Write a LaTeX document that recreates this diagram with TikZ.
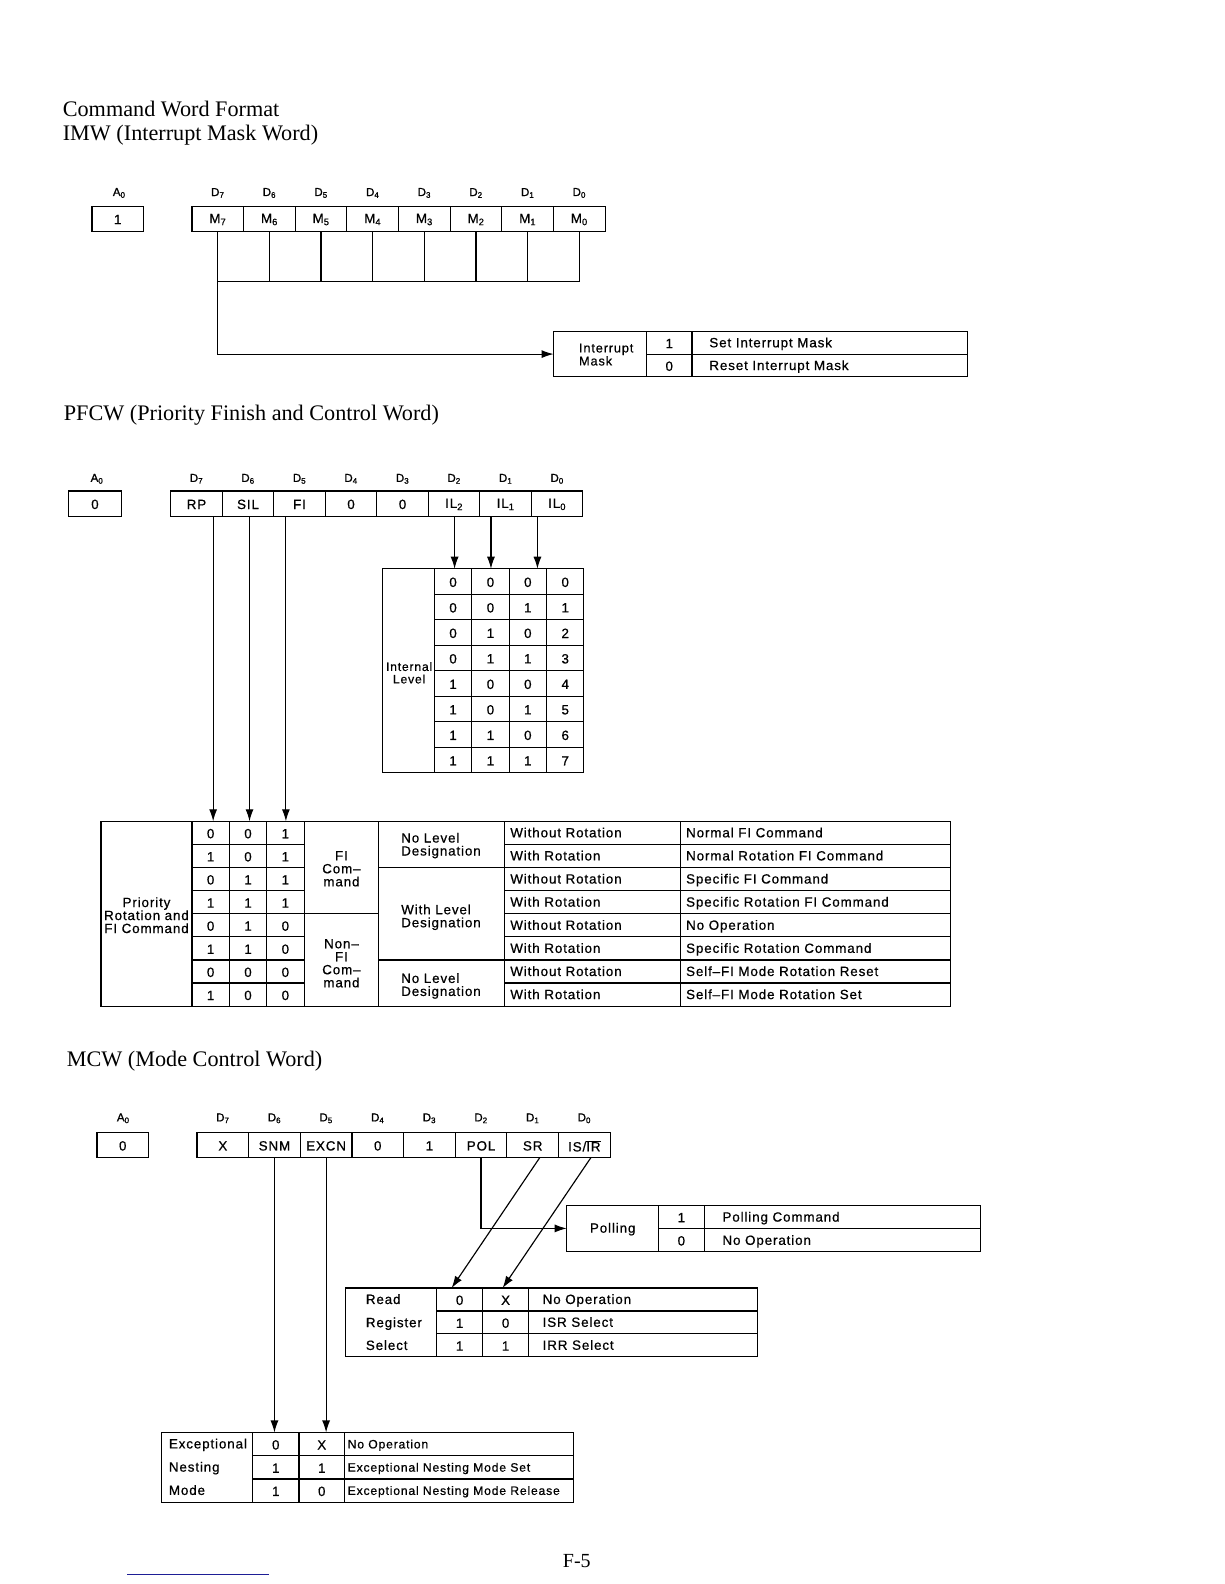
\documentclass[tikz,border=0pt]{standalone}
\usepackage{fontspec}
\setmainfont{Liberation Serif}
\newfontfamily\hv[LetterSpace=6.5,FakeBold=0.6]{Liberation Sans}
\newfontfamily\hvd[FakeBold=1.2]{Liberation Sans}
\usetikzlibrary{arrows.meta,fit}
\definecolor{linkblue}{RGB}{30,30,150}
\newcommand\tcell[4][]{\node[grid,fit={#3},#1] (#2) {};%
  \if\relax\detokenize{#4}\relax\else\node[tx] (#2t) at ([yshift=-0.8pt]#2.center) {#4};\fi}
\tikzset{
  grid/.style={draw, line width=1.15pt, inner sep=0pt, outer sep=0pt},
  tx/.style={inner sep=0pt, font=\hv\fontsize{13.4}{13}\selectfont},
  txs/.style={inner sep=0pt, font=\hv\fontsize{12.2}{13}\selectfont},
  dl/.style={inner sep=0pt, font=\hvd\fontsize{11.5}{12}\selectfont},
  ttl/.style={inner sep=0pt, anchor=west, font=\fontsize{22.2}{24}\selectfont},
  wire/.style={line width=1.15pt},
  arr/.style={wire, -{Latex[length=12pt,width=8pt]}},
}
\begin{document}
\begin{tikzpicture}[x=1.0099pt,y=-1.0099pt]
\useasboundingbox[fill=white] (0,0) rectangle (1212,1568);

% ---------------- IMW ----------------
\node[ttl] (t1) at (62,108) {Command Word Format};
\node[ttl] (t2) at (62,134) {IMW (Interrupt Mask Word)};
\node[dl] (imwA) at (118,191) {A\textsubscript{0}};
\tcell{imwa}{(91,204) (142,229)}{1}
\foreach \lab [count=\kk from 0] in {7,6,5,4,3,2,1,0}{
  \pgfmathsetmacro\xa{190+51.125*\kk}
  \pgfmathsetmacro\xb{\xa+51.125}
  \pgfmathsetmacro\xm{\xa+25.56}
  \node[dl] (imwd\kk) at (\xm,191) {D\textsubscript{\lab}};
  \tcell{imw\kk}{(\xa,204) (\xb,229)}{M\textsubscript{\lab}}
}
\coordinate (comb) at (216,279);
\foreach \kk in {1,...,7}{\draw[wire] (imw\kk.south) -- (imw\kk.south |- comb);}
\draw[wire] (imw0.south |- comb) -- (imw7.south |- comb);

\tcell{imlab}{(548,328) (640,373)}{}
\node[tx, align=left, anchor=west, font=\hv\fontsize{12.8}{13}\selectfont] (imlabt) at (573,351) {Interrupt\\Mask};
\tcell{im1}{(640,328) (685,350.5)}{1}
\tcell{im0}{(640,350.5) (685,373)}{0}
\tcell{im1d}{(685,328) (958,350.5)}{}
\tcell{im0d}{(685,350.5) (958,373)}{}
\node[tx,anchor=mid west] (im1t) at (702,341.5) {Set Interrupt Mask};
\node[tx,anchor=mid west] (im0t) at (702,364) {Reset Interrupt Mask};
\draw[arr] (imw0.south) |- (imlab.west);

% ---------------- PFCW ----------------
\node[ttl] (t3) at (63,411) {PFCW (Priority Finish and Control Word)};
\node[dl] (pfA) at (96,474) {A\textsubscript{0}};
\tcell{pfa}{(68,486) (120,511)}{0}
\foreach \lab/\dn [count=\kk from 0] in {RP/7,SIL/6,FI/5,0/4,0/3,{IL\textsubscript{2}}/2,{IL\textsubscript{1}}/1,{IL\textsubscript{0}}/0}{
  \pgfmathsetmacro\xa{169+51*\kk}
  \pgfmathsetmacro\xb{\xa+51}
  \pgfmathsetmacro\xm{\xa+25.5}
  \node[dl] (pfd\kk) at (\xm,474) {D\textsubscript{\dn}};
  \tcell{pf\kk}{(\xa,486) (\xb,511)}{\lab}
}
% internal level table
\tcell{illab}{(379,563) (430,765)}{}
\node[tx, align=center, font=\hv\fontsize{12.2}{12.5}\selectfont] (illabt) at (405,666) {Internal\\Level};
\foreach \va/\vb/\vc/\vn [count=\rr from 0] in {0/0/0/0,0/0/1/1,0/1/0/2,0/1/1/3,1/0/0/4,1/0/1/5,1/1/0/6,1/1/1/7}{
  \pgfmathsetmacro\ya{563+25.25*\rr}
  \pgfmathsetmacro\yb{\ya+25.25}
  \tcell{ila\rr}{(430,\ya) (467,\yb)}{\va}
  \tcell{ilb\rr}{(467,\ya) (504,\yb)}{\vb}
  \tcell{ilc\rr}{(504,\ya) (541,\yb)}{\vc}
  \tcell{ild\rr}{(541,\ya) (578,\yb)}{\vn}
}
\coordinate (arrIL2) at (450,563);
\coordinate (arrIL1) at (486,563);
\coordinate (arrIL0) at (532,563);
\draw[arr] (arrIL2 |- pf5.south) -- (arrIL2);
\draw[arr] (arrIL1 |- pf6.south) -- (arrIL1);
\draw[arr] (arrIL0 |- pf7.south) -- (arrIL0);

% priority rotation table
\tcell{prlab}{(100,813) (190,996)}{}
\node[tx, align=center] (prlabt) at (145,906) {Priority\\Rotation and\\FI Command};
\foreach \va/\vb/\vc/\rot/\res [count=\rr from 0] in {
  0/0/1/Without Rotation/Normal FI Command,
  1/0/1/With Rotation/Normal Rotation FI Command,
  0/1/1/Without Rotation/Specific FI Command,
  1/1/1/With Rotation/Specific Rotation FI Command,
  0/1/0/Without Rotation/No Operation,
  1/1/0/With Rotation/Specific Rotation Command,
  0/0/0/Without Rotation/Self–FI Mode Rotation Reset,
  1/0/0/With Rotation/Self–FI Mode Rotation Set}{
  \pgfmathsetmacro\ya{813+22.875*\rr}
  \pgfmathsetmacro\yb{\ya+22.875}
  \pgfmathsetmacro\ym{\ya+13.6}
  \tcell{pba\rr}{(190,\ya) (227,\yb)}{\va}
  \tcell{pbb\rr}{(227,\ya) (264,\yb)}{\vb}
  \tcell{pbc\rr}{(264,\ya) (301,\yb)}{\vc}
  \tcell{prot\rr}{(499,\ya) (674,\yb)}{}
  \tcell{pres\rr}{(674,\ya) (941,\yb)}{}
  \node[tx,anchor=mid west] (prott\rr) at (505,\ym) {\rot};
  \node[tx,anchor=mid west] (prest\rr) at (679,\ym) {\res};
}
\tcell{pfic}{(301,813) (375,904.5)}{}
\node[tx, align=center] (pfict) at (338,860) {FI\\Com–\\mand};
\tcell{pnfic}{(301,904.5) (375,996)}{}
\node[tx, align=center] (pnfict) at (338,953.5) {Non–\\FI\\Com–\\mand};
\tcell{plev1}{(375,813) (499,858.75)}{}
\node[tx, align=left, anchor=west] (plev1t) at (397,837) {No Level\\Designation};
\tcell{plev2}{(375,858.75) (499,950.25)}{}
\node[tx, align=left, anchor=west] (plev2t) at (397,908) {With Level\\Designation};
\tcell{plev3}{(375,950.25) (499,996)}{}
\node[tx, align=left, anchor=west] (plev3t) at (397,976) {No Level\\Designation};
\coordinate (arrRP) at (211,813);
\coordinate (arrSIL) at (247,813);
\coordinate (arrFI) at (283,813);
\draw[arr] (arrRP |- pf0.south) -- (arrRP);
\draw[arr] (arrSIL |- pf1.south) -- (arrSIL);
\draw[arr] (arrFI |- pf2.south) -- (arrFI);

% ---------------- MCW ----------------
\node[ttl] (t4) at (66,1050) {MCW (Mode Control Word)};
\node[dl] (mcA) at (122,1107) {A\textsubscript{0}};
\tcell{mca}{(96,1121) (147,1146)}{0}
\foreach \lab/\dn [count=\kk from 0] in {X/7,SNM/6,EXCN/5,0/4,1/3,POL/2,SR/1,{IS/$\overline{\mbox{IR}}$}/0}{
  \pgfmathsetmacro\xa{195+51.125*\kk}
  \pgfmathsetmacro\xb{\xa+51.125}
  \pgfmathsetmacro\xm{\xa+25.56}
  \node[dl] (mcd\kk) at (\xm,1107) {D\textsubscript{\dn}};
  \tcell{mc\kk}{(\xa,1121) (\xb,1146)}{\lab}
}
% polling
\tcell{polab}{(561,1193) (652,1239)}{Polling}
\tcell{po1}{(652,1193) (697,1216)}{1}
\tcell{po0}{(652,1216) (697,1239)}{0}
\tcell{po1d}{(697,1193) (971,1216)}{}
\tcell{po0d}{(697,1216) (971,1239)}{}
\node[tx,anchor=mid west] (po1t) at (715,1207) {Polling Command};
\node[tx,anchor=mid west] (po0t) at (715,1230) {No Operation};
\draw[arr] (mc5.south) |- (polab.west);

% read register select
\tcell{rrlab}{(342,1275) (432,1343)}{}
\node[tx,anchor=mid west] (rrl1) at (362,1288.5) {Read};
\node[tx,anchor=mid west] (rrl2) at (362,1311.5) {Register};
\node[tx,anchor=mid west] (rrl3) at (362,1334) {Select};
\foreach \va/\vb/\res [count=\rr from 0] in {0/X/No Operation,1/0/ISR Select,1/1/IRR Select}{
  \pgfmathsetmacro\ya{1275+22.67*\rr}
  \pgfmathsetmacro\yb{\ya+22.67}
  \pgfmathsetmacro\ym{\ya+13.5}
  \tcell{rra\rr}{(432,\ya) (478,\yb)}{\va}
  \tcell{rrb\rr}{(478,\ya) (523,\yb)}{\vb}
  \tcell{rrd\rr}{(523,\ya) (750,\yb)}{}
  \node[tx,anchor=mid west] (rrt\rr) at (537,\ym) {\res};
}
\draw[arr] ([xshift=7pt]mc6.south) -- ([xshift=-8pt]rra0.north);
\draw[arr] ([xshift=6.5pt]mc7.south) -- ([xshift=-3pt]rrb0.north);

% exceptional nesting mode
\tcell{exlab}{(160,1418) (250,1487)}{}
\node[tx,anchor=mid west] (exl1) at (167,1431.5) {Exceptional};
\node[tx,anchor=mid west] (exl2) at (167,1454.5) {Nesting};
\node[tx,anchor=mid west] (exl3) at (167,1477.5) {Mode};
\foreach \va/\vb/\res [count=\rr from 0] in {0/X/No Operation,1/1/Exceptional Nesting Mode Set,1/0/Exceptional Nesting Mode Release}{
  \pgfmathsetmacro\ya{1418+23*\rr}
  \pgfmathsetmacro\yb{\ya+23}
  \pgfmathsetmacro\ym{\ya+13.5}
  \tcell{exa\rr}{(250,\ya) (296,\yb)}{\va}
  \tcell{exb\rr}{(296,\ya) (341,\yb)}{\vb}
  \tcell{exd\rr}{(341,\ya) (568,\yb)}{}
  \node[txs,anchor=mid west] (ext\rr) at (344,\ym) {\res};
}
\draw[arr] (mc1.south) -- (mc1.south |- exa0.north);
\draw[arr] (mc2.south) -- (mc2.south |- exb0.north);

% footer
\node[inner sep=0pt, font=\fontsize{20}{22}\selectfont] (pg) at (571,1545) {F-5};
\coordinate (ulA) at (126,1559);
\coordinate (ulB) at (266,1559);
\draw[linkblue, line width=1pt] (ulA) -- (ulB);
\end{tikzpicture}
\end{document}
